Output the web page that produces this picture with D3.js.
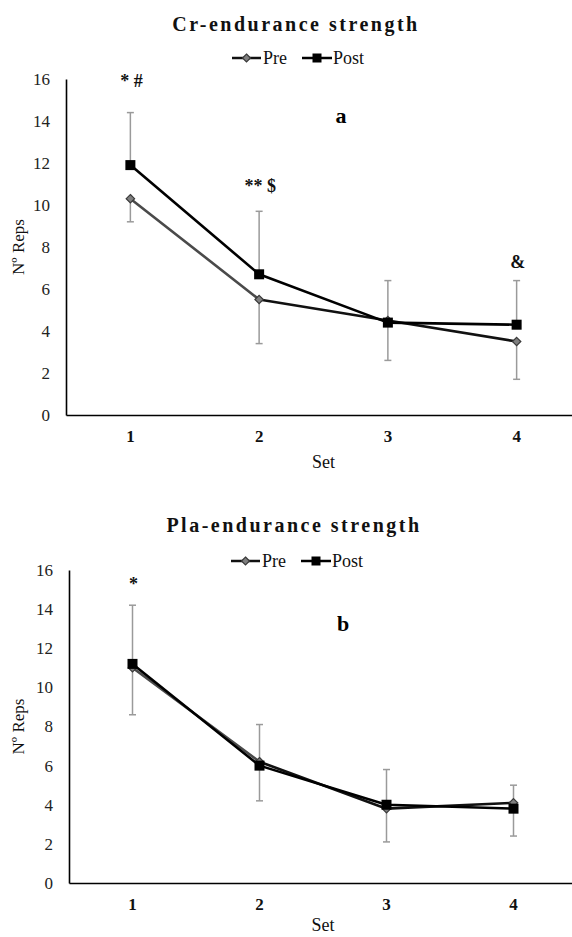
<!DOCTYPE html>
<html>
<head>
<meta charset="utf-8">
<script src="https://cdn.jsdelivr.net/npm/d3@7"></script>
<style>
  html, body { margin: 0; padding: 0; background: #fff; }
  svg { display: block; }
  svg text { font-family: "Liberation Serif", "Times New Roman", serif !important; }
</style>
</head>
<body>
<svg id="chart" width="572" height="937"></svg>
<script>
// Data
const sets = ['1', '2', '3', '4'];
const yTicks = [0, 2, 4, 6, 8, 10, 12, 14, 16];

const crPre = [10.3, 5.5, 4.5, 3.5];
const crPost = [11.9, 6.7, 4.4, 4.3];
const crPreLow = [9.2, 3.4, 2.6, 1.7];     // lower end of Pre error bar
const crPostHigh = [14.4, 9.7, 6.4, 6.4];  // upper end of Post error bar
const crSig = ['* #', '** $', '', '&'];
const crSigAt = [15.6, 10.6, 0, 7.0];

const plaPre = [11.0, 6.2, 3.8, 4.1];
const plaPost = [11.2, 6.0, 4.0, 3.8];
const plaPreLow = [8.6, 4.2, 2.1, 2.4];
const plaPostHigh = [14.2, 8.1, 5.8, 5.0];
const plaSig = ['*', '', '', ''];
const plaSigAt = [15.0, 0, 0, 0];

const svg = d3.select('#chart');

const ERR = '#9a9a9a';

function diamond(g, cx, cy, r) {
  g.append('path')
    .attr('d', `M${cx},${cy - r}L${cx + r},${cy}L${cx},${cy + r}L${cx - r},${cy}Z`)
    .attr('fill', '#7f7f7f')
    .attr('stroke', '#3a3a3a')
    .attr('stroke-width', 1.2);
}

function square(g, cx, cy, s) {
  g.append('rect')
    .attr('x', cx - s / 2).attr('y', cy - s / 2)
    .attr('width', s).attr('height', s)
    .attr('fill', '#000');
}

function drawPanel(p) {
  const g = svg.append('g');
  const x = d3.scaleBand().domain(sets).range([p.x0, p.x1]);
  const y = d3.scaleLinear().domain([0, 16]).range([p.yBottom, p.yTop]);
  const cx = (s) => x(s) + x.bandwidth() / 2;

  // Title
  g.append('text')
    .attr('x', p.titleX).attr('y', p.titleY)
    .attr('text-anchor', 'middle')
    .attr('font-size', 20).attr('font-weight', 'bold')
    .attr('letter-spacing', 2.5)
    .attr('fill', '#111')
    .text(p.title);

  // Legend
  const lg = g.append('g').attr('transform', `translate(${p.legendX},${p.legendY})`);
  lg.append('line').attr('x1', 0).attr('x2', 29).attr('stroke', '#111').attr('stroke-width', 2.5);
  diamond(lg, 14.5, 0, 4);
  lg.append('text').attr('x', 31).attr('y', 6).attr('font-size', 18).attr('fill', '#111').text('Pre');
  lg.append('line').attr('x1', 70).attr('x2', 100).attr('stroke', '#000').attr('stroke-width', 2.5);
  square(lg, 85, 0, 9);
  lg.append('text').attr('x', 101).attr('y', 6).attr('font-size', 18).attr('fill', '#111').text('Post');

  // Y axis
  const ya = g.append('g')
    .attr('transform', `translate(${p.x0},0)`)
    .call(d3.axisLeft(y).tickValues(yTicks).tickSize(0).tickSizeOuter(0).tickPadding(16));
  ya.select('.domain').attr('stroke', '#000').attr('stroke-width', 1.6);
  ya.selectAll('text')
    .attr('font-size', 17).attr('fill', '#222');

  // X axis
  const xa = g.append('g')
    .attr('transform', `translate(0,${p.yBottom})`)
    .call(d3.axisBottom(x).tickSize(0).tickSizeOuter(0).tickPadding(15));
  xa.select('.domain').attr('stroke', '#000').attr('stroke-width', 1.6);
  xa.selectAll('text')
    .attr('font-size', 17).attr('font-weight', 'bold').attr('fill', '#111');

  // Axis titles
  g.append('text')
    .attr('x', (p.x0 + p.x1) / 2).attr('y', p.setY)
    .attr('text-anchor', 'middle')
    .attr('font-size', 18).attr('fill', '#111')
    .text('Set');
  g.append('text')
    .attr('transform', `translate(24,${(p.yTop + p.yBottom) / 2}) rotate(-90)`)
    .attr('text-anchor', 'middle')
    .attr('font-size', 17).attr('fill', '#111')
    .text('Nº Reps');

  // Panel letter
  g.append('text')
    .attr('x', p.letterX).attr('y', y(p.letterAt))
    .attr('text-anchor', 'middle')
    .attr('font-size', 22).attr('font-weight', 'bold').attr('fill', '#000')
    .text(p.letter);

  // Error bars: Pre downward, Post upward
  const bars = [];
  sets.forEach((s, i) => {
    bars.push({ s, from: p.pre[i], to: p.preLow[i] });
    bars.push({ s, from: p.post[i], to: p.postHigh[i] });
  });
  const eb = g.append('g').attr('stroke', ERR).attr('stroke-width', 1.5);
  eb.selectAll('line.v').data(bars).enter().append('line')
    .attr('x1', (d) => cx(d.s)).attr('x2', (d) => cx(d.s))
    .attr('y1', (d) => y(d.from)).attr('y2', (d) => y(d.to));
  eb.selectAll('line.cap').data(bars).enter().append('line')
    .attr('x1', (d) => cx(d.s) - 3.5).attr('x2', (d) => cx(d.s) + 3.5)
    .attr('y1', (d) => y(d.to)).attr('y2', (d) => y(d.to));

  // Pre series (first segment a little lighter, as in the figure)
  const prePts = sets.map((s, i) => [cx(s), y(p.pre[i])]);
  d3.pairs(prePts).forEach(([a, b], i) => {
    g.append('line')
      .attr('x1', a[0]).attr('y1', a[1]).attr('x2', b[0]).attr('y2', b[1])
      .attr('stroke', i === 0 ? '#4a4a4a' : '#111')
      .attr('stroke-width', 2.6)
      .attr('stroke-linecap', 'round');
  });
  prePts.forEach((pt) => diamond(g, pt[0], pt[1], 4.2));

  // Post series
  const postLine = d3.line().x((d) => cx(d.s)).y((d) => y(d.v));
  g.append('path')
    .datum(sets.map((s, i) => ({ s, v: p.post[i] })))
    .attr('d', postLine)
    .attr('fill', 'none')
    .attr('stroke', '#000')
    .attr('stroke-width', 2.6)
    .attr('stroke-linejoin', 'round');
  sets.forEach((s, i) => square(g, cx(s), y(p.post[i]), 10));

  // Significance marks
  g.selectAll('text.sig')
    .data(sets.map((s, i) => ({ s, t: p.sig[i], v: p.sigAt[i] })).filter((d) => d.t))
    .enter().append('text')
    .attr('class', 'sig')
    .attr('x', (d) => cx(d.s) + 1)
    .attr('y', (d) => y(d.v))
    .attr('text-anchor', 'middle')
    .attr('font-size', 18).attr('font-weight', 'bold').attr('fill', '#111')
    .text((d) => d.t);
}

drawPanel({
  title: 'Cr-endurance strength', titleX: 296, titleY: 31,
  legendX: 232, legendY: 58,
  x0: 66, x1: 581, yTop: 79, yBottom: 415, setY: 468,
  letter: 'a', letterX: 341, letterAt: 13.9,
  pre: crPre, post: crPost, preLow: crPreLow, postHigh: crPostHigh,
  sig: crSig, sigAt: crSigAt,
});

drawPanel({
  title: 'Pla-endurance strength', titleX: 294, titleY: 532,
  legendX: 231, legendY: 561,
  x0: 69, x1: 577, yTop: 570, yBottom: 883, setY: 931,
  letter: 'b', letterX: 343, letterAt: 12.9,
  pre: plaPre, post: plaPost, preLow: plaPreLow, postHigh: plaPostHigh,
  sig: plaSig, sigAt: plaSigAt,
});
</script>
</body>
</html>
